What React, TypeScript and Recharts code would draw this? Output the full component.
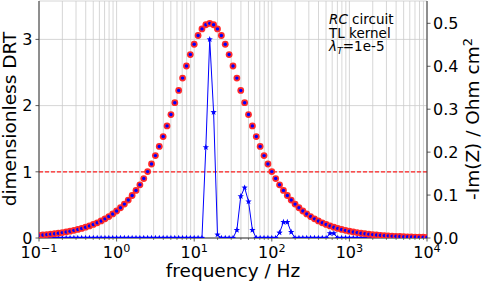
import React from 'react'
import { ComposedChart, Line, XAxis, YAxis, CartesianGrid, ReferenceLine } from 'recharts'

// frequency grid, 20 points per decade
const FREQ = [
  0.1, 0.1122, 0.1259, 0.1413, 0.1585, 0.1778, 0.1995, 0.2239, 0.2512, 0.2818,
  0.3162, 0.3548, 0.3981, 0.4467, 0.5012, 0.5623, 0.631, 0.7079, 0.7943, 0.8913,
  1, 1.122, 1.259, 1.413, 1.585, 1.778, 1.995, 2.239, 2.512, 2.818,
  3.162, 3.548, 3.981, 4.467, 5.012, 5.623, 6.31, 7.079, 7.943, 8.913,
  10, 11.22, 12.59, 14.13, 15.85, 17.78, 19.95, 22.39, 25.12, 28.18,
  31.62, 35.48, 39.81, 44.67, 50.12, 56.23, 63.1, 70.79, 79.43, 89.13,
  100, 112.2, 125.9, 141.3, 158.5, 177.8, 199.5, 223.9, 251.2, 281.8,
  316.2, 354.8, 398.1, 446.7, 501.2, 562.3, 631, 707.9, 794.3, 891.3,
  1000, 1122, 1259, 1413, 1585, 1778, 1995, 2239, 2512, 2818,
  3162, 3548, 3981, 4467, 5012, 5623, 6310, 7079, 7943, 8913,
  10000,
]

// dimensionless DRT (left axis)
const DRT = [
  0, 0, 0, 0, 0, 0, 0, 0, 0, 0,
  0, 0, 0, 0, 0, 0, 0, 0, 0, 0,
  0, 0, 0, 0, 0, 0, 0, 0, 0, 0,
  0, 0, 0, 0, 0, 0, 0, 0, 0, 0,
  0, 0, 0, 1.37, 3.0, 1.9, 0.05, 0, 0, 0,
  0, 0.12, 0.63, 0.76, 0.55, 0.12, 0, 0, 0, 0,
  0, 0, 0.08, 0.24, 0.24, 0.09, 0, 0, 0, 0,
  0, 0, 0, 0, 0, 0.07, 0.07, 0, 0, 0,
  0, 0, 0, 0, 0, 0, 0, 0, 0, 0,
  0, 0, 0, 0, 0, 0, 0, 0, 0, 0,
  0,
]

// -Im(Z) / Ohm cm2 (right axis)
const IMZ = [
  0.00631, 0.00708, 0.00794, 0.00891, 0.01, 0.01122, 0.01259, 0.01412, 0.01585, 0.01778,
  0.01994, 0.02238, 0.0251, 0.02816, 0.03159, 0.03544, 0.03975, 0.04458, 0.04999, 0.05606,
  0.06285, 0.07044, 0.07893, 0.08842, 0.09901, 0.11081, 0.12393, 0.13849, 0.15461, 0.17238,
  0.19189, 0.21319, 0.23628, 0.2611, 0.28748, 0.31514, 0.34364, 0.37238, 0.40057, 0.42724,
  0.45129, 0.47159, 0.48703, 0.4967, 0.5, 0.4967, 0.48703, 0.47159, 0.45129, 0.42724,
  0.40057, 0.37238, 0.34364, 0.31514, 0.28748, 0.2611, 0.23628, 0.21319, 0.19189, 0.17238,
  0.15461, 0.13849, 0.12393, 0.11081, 0.09901, 0.08842, 0.07893, 0.07044, 0.06285, 0.05606,
  0.04999, 0.04458, 0.03975, 0.03544, 0.03159, 0.02816, 0.0251, 0.02238, 0.01994, 0.01778,
  0.01585, 0.01412, 0.01259, 0.01122, 0.01, 0.00891, 0.00794, 0.00708, 0.00631, 0.00562,
  0.00501, 0.00447, 0.00398, 0.00355, 0.00316, 0.00282, 0.00251, 0.00224, 0.002, 0.00178,
  0.00158,
]

const X_MAJOR = [0.1, 1, 10, 100, 1000, 10000]
const X_EXP = ['\u22121', '0', '1', '2', '3', '4']
const X_MINOR = [
  0.2, 0.3, 0.4, 0.5, 0.6, 0.7, 0.8, 0.9,
  2, 3, 4, 5, 6, 7, 8, 9,
  20, 30, 40, 50, 60, 70, 80, 90,
  200, 300, 400, 500, 600, 700, 800, 900,
  2000, 3000, 4000, 5000, 6000, 7000, 8000, 9000,
]
const LEFT_TICKS = [0, 1, 2, 3]
const RIGHT_TICKS = [0, 0.1, 0.2, 0.3, 0.4, 0.5]

const data = FREQ.map((f, i) => ({ f, drt: DRT[i], imz: IMZ[i] }))
const xTicks = [...X_MAJOR, ...X_MINOR].sort((a, b) => a - b)

const FONT = 'DejaVu Sans, Verdana, sans-serif'
const SPINE = '#333'

function XTick(props: any) {
  const { x, y, payload } = props
  const i = X_MAJOR.indexOf(payload.value)
  const major = i >= 0
  return (
    <g>
      <line x1={x} x2={x} y1={y} y2={y + (major ? 3.5 : 2)} stroke={SPINE} strokeWidth={major ? 0.8 : 0.6} />
      {major && (
        <text x={x} y={y + 20} textAnchor="middle" fontSize={16} fontFamily={FONT} fill="#000">
          10<tspan dy={-6.5} fontSize={11.2}>{X_EXP[i]}</tspan>
        </text>
      )}
    </g>
  )
}

function LeftTick(props: any) {
  const { x, y, payload } = props
  return (
    <g>
      <line x1={x - 3.5} x2={x} y1={y} y2={y} stroke={SPINE} strokeWidth={0.8} />
      <text x={x - 6.5} y={y} dy="0.36em" textAnchor="end" fontSize={16} fontFamily={FONT} fill="#000">
        {payload.value}
      </text>
    </g>
  )
}

function RightTick(props: any) {
  const { x, y, payload } = props
  return (
    <g>
      <line x1={x} x2={x + 3.5} y1={y} y2={y} stroke={SPINE} strokeWidth={0.8} />
      <text x={x + 6} y={y} dy="0.36em" textAnchor="start" fontSize={16} fontFamily={FONT} fill="#000">
        {payload.value.toFixed(1)}
      </text>
    </g>
  )
}

function starPoints(cx: number, cy: number, R: number, r: number) {
  const pts: string[] = []
  for (let k = 0; k < 10; k++) {
    const a = -Math.PI / 2 + (k * Math.PI) / 5
    const rad = k % 2 === 0 ? R : r
    pts.push(`${cx + rad * Math.cos(a)},${cy + rad * Math.sin(a)}`)
  }
  return pts.join(' ')
}

function StarDot(props: any) {
  const { cx, cy, index } = props
  if (cx == null || cy == null) return <g key={index} />
  return <polygon key={index} points={starPoints(cx, cy, 3.3, 1.4)} fill="#0000ff" />
}

function ImzDot(props: any) {
  const { cx, cy, index } = props
  if (cx == null || cy == null) return <g key={index} />
  return (
    <g key={index}>
      <circle cx={cx} cy={cy} r={3.4} fill="#ff2a2a" />
      <circle cx={cx} cy={cy} r={1.7} fill="#0000ff" />
    </g>
  )
}

export default function App() {
  return (
    <div style={{ position: 'absolute', left: 0, top: 0, width: 484, height: 284, background: '#fff' }}>
      <ComposedChart width={484} height={284} data={data} margin={{ top: 1, right: 0, bottom: 0, left: 0 }}>
        <CartesianGrid stroke="#cccccc" strokeWidth={0.8} />
        <XAxis
          dataKey="f"
          type="number"
          scale="log"
          domain={[0.1, 10000]}
          allowDataOverflow
          ticks={xTicks}
          interval={0}
          height={46}
          tickSize={0}
          tickMargin={0}
          tickLine={false}
          tick={<XTick />}
          axisLine={{ stroke: SPINE, strokeWidth: 1 }}
        />
        <XAxis
          xAxisId="top"
          dataKey="f"
          type="number"
          scale="log"
          domain={[0.1, 10000]}
          allowDataOverflow
          orientation="top"
          height={0}
          tick={false}
          tickLine={false}
          axisLine={{ stroke: SPINE, strokeWidth: 1 }}
        />
        <YAxis
          yAxisId={0}
          type="number"
          domain={[0, 3.58]}
          allowDataOverflow
          ticks={LEFT_TICKS}
          interval={0}
          width={39}
          tickSize={0}
          tickMargin={0}
          tickLine={false}
          tick={<LeftTick />}
          axisLine={{ stroke: SPINE, strokeWidth: 1 }}
        />
        <YAxis
          yAxisId="right"
          orientation="right"
          type="number"
          domain={[0, 0.552]}
          allowDataOverflow
          ticks={RIGHT_TICKS}
          interval={0}
          width={57}
          tickSize={0}
          tickMargin={0}
          tickLine={false}
          tick={<RightTick />}
          axisLine={{ stroke: SPINE, strokeWidth: 1 }}
        />
        <ReferenceLine yAxisId={0} y={1} stroke="#ff2020" strokeWidth={1.2} strokeDasharray="4 2" />
        <Line
          yAxisId={0}
          dataKey="drt"
          stroke="#0000ff"
          strokeWidth={1}
          dot={StarDot}
          activeDot={false}
          isAnimationActive={false}
        />
        <Line
          yAxisId="right"
          dataKey="imz"
          stroke="none"
          dot={ImzDot}
          activeDot={false}
          isAnimationActive={false}
        />
      </ComposedChart>
      <svg width={484} height={284} style={{ position: 'absolute', left: 0, top: 0, pointerEvents: 'none' }}>
        <text x={15.5} y={119} transform="rotate(-90 15.5 119)" textAnchor="middle" fontSize={18.5} fontFamily={FONT} fill="#000">
          dimensionless DRT
        </text>
        <text x={479} y={119} transform="rotate(-90 479 119)" textAnchor="middle" fontSize={18.5} fontFamily={FONT} fill="#000">
          -Im(Z) / Ohm cm<tspan dy={-7} fontSize={13}>2</tspan>
        </text>
        <text x={233} y={277} textAnchor="middle" fontSize={18.5} fontFamily={FONT} fill="#000">
          frequency / Hz
        </text>
        <g fontSize={13.5} fontFamily={FONT} fill="#000">
          <text x={329} y={24}>
            <tspan fontStyle="italic">RC</tspan> circuit
          </text>
          <text x={329} y={37.5}>TL kernel</text>
          <text x={329} y={51}>
            <tspan fontStyle="italic">λ</tspan>
            <tspan fontStyle="italic" fontSize={9.5} dy={2.5}>T</tspan>
            <tspan dy={-2.5}>=1e-5</tspan>
          </text>
        </g>
      </svg>
    </div>
  )
}
